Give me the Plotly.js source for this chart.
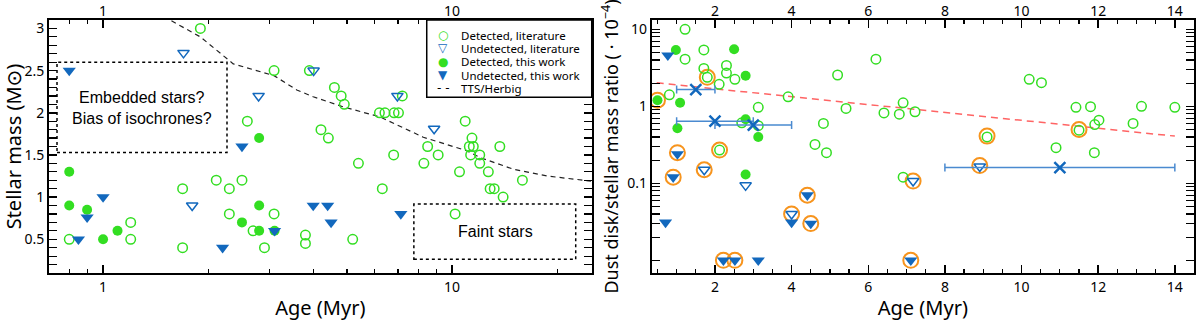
<!DOCTYPE html>
<html>
<head>
<meta charset="utf-8">
<script src="https://cdn.plot.ly/plotly-3.0.1.min.js"></script>
<style>
  html, body { margin: 0; padding: 0; background: #fff; }
  #chart { width: 1200px; height: 321px; }
</style>
</head>
<body>
<div id="chart"></div>
<script>
// ---- Left panel: stellar mass vs age (Myr, log) ----
const litDetAge  = [1.90, 3.09, 2.59, 3.90, 4.60, 4.81, 4.91, 4.21, 4.42, 6.19, 6.42, 6.82, 7.02, 7.20,
                    10.9, 11.4, 11.2, 11.5, 13.7, 8.51, 9.12, 6.80, 11.3, 12.0, 12.0, 12.7, 8.30, 5.39,
                    10.5, 6.31, 12.85, 13.2, 14.0, 15.9, 10.2, 5.19, 3.80, 3.80, 2.11, 2.50, 2.30, 1.69,
                    2.30, 3.09, 2.69, 2.90, 1.69, 1.20, 1.20, 0.80];
const litDetMass = [3.0, 2.5, 1.9, 2.5, 2.3, 2.2, 2.1, 1.8, 1.7, 2.0, 2.0, 2.0, 2.0, 2.2,
                    1.9, 1.7, 1.6, 1.6, 1.6, 1.6, 1.5, 1.5, 1.5, 1.5, 1.4, 1.3, 1.4, 1.4,
                    1.3, 1.1, 1.1, 1.1, 1.0, 1.2, 0.8, 0.5, 0.55, 0.45, 1.2, 1.2, 1.1, 1.1,
                    0.8, 0.8, 0.6, 0.4, 0.4, 0.7, 0.5, 0.5];
const litUndAge  = [1.70, 2.79, 4.01, 6.97, 8.88, 1.80];
const litUndMass = [2.71, 2.2, 2.5, 2.2, 1.81, 0.9];
const newDetAge  = [2.80, 0.80, 0.80, 0.90, 1.00, 1.10, 2.50, 2.80, 2.80, 3.10];
const newDetMass = [1.7, 1.3, 0.9, 0.85, 0.5, 0.6, 0.7, 0.9, 0.6, 0.6];
const newUndAge  = [0.80, 2.50, 1.00, 0.90, 0.85, 2.20, 3.10, 4.00, 4.40, 4.50, 7.13];
const newUndMass = [2.5, 1.6, 1.0, 0.76, 0.5, 0.4, 0.6, 0.9, 0.9, 0.7, 0.8];
// TTS / Herbig boundary
const ttsAge  = [1.57, 1.90, 2.36, 3.09, 3.59, 4.00, 4.88, 6.22, 8.27, 11.0, 12.0, 15.0, 18.7, 25.0];
const ttsMass = [3.09, 2.90, 2.58, 2.44, 2.27, 2.19, 2.07, 1.95, 1.71, 1.55, 1.47, 1.33, 1.25, 1.19];

// ---- Right panel: dust disk / stellar mass ratio (x1e-4) vs age ----
const rLitDetAge   = [1.22, 1.22, 1.71, 1.71, 2.30, 2.30, 2.52, 1.80, 2.11, 0.81, 3.91, 3.13, 5.20,
                      5.42, 6.20, 6.41, 6.81, 6.91, 7.22, 4.83, 4.61, 4.91, 2.70, 3.13, 2.12, 6.91,
                      10.2, 10.52, 11.42, 11.8, 12.02, 11.91, 13.13, 12.91, 14.0, 11.5, 9.1, 10.9, 11.9];
const rLitDetRatio = [10, 4.1, 5.4, 3.1, 3.4, 2.7, 2.24, 2.38, 1.93, 1.41, 1.33, 0.97, 2.55,
                      0.94, 4.1, 0.82, 0.79, 1.11, 0.85, 0.60, 0.32, 0.25, 0.61, 0.56, 0.27, 0.12,
                      2.24, 2.03, 0.97, 0.99, 0.66, 0.58, 1.0, 0.6, 0.97, 0.49, 0.40, 0.29, 0.25];
const rLitUndAge   = [1.72, 2.80, 4.00, 7.17, 8.91];
const rLitUndRatio = [0.15, 0.094, 0.04, 0.107, 0.165];
const rNewDetAge   = [0.98, 2.50, 2.80, 0.50, 1.09, 1.02, 2.80, 3.13, 2.80];
const rNewDetRatio = [5.4, 5.5, 2.5, 1.2, 1.11, 0.52, 0.68, 0.40, 0.13];
const rNewUndAge   = [0.77, 1.02, 0.91, 0.71, 4.00, 4.41, 4.50, 2.22, 2.52, 3.13, 7.11];
const rNewUndRatio = [4.6, 0.24, 0.12, 0.031, 0.031, 0.07, 0.030, 0.01, 0.01, 0.01, 0.01];
// orange rings around selected sources
const ringAge   = [0.50, 1.80, 1.02, 2.12, 0.91, 1.72, 4.00, 4.41, 4.50, 2.22, 2.52, 7.11, 7.17, 8.91, 9.10, 11.5];
const ringRatio = [1.2, 2.38, 0.25, 0.27, 0.12, 0.15, 0.04, 0.07, 0.03, 0.01, 0.01, 0.01, 0.107, 0.17, 0.41, 0.50];
// binned means with age spread
const meanAge    = [1.5, 2.0, 3.0, 11.0];
const meanRatio  = [1.65, 0.64, 0.57, 0.16];
const meanAgeErr = [0.5, 1.0, 1.0, 3.0];
// fitted trend
const fitAge   = [0.48, 14.0];
const fitRatio = [2.02, 0.41];

const legendLabels = ['Detected, literature', 'Undetected, literature', 'Detected, this work',
                      'Undetected, this work', 'TTS/Herbig'];
const legendGlyphs = ['○', '▽', '●', '▼', '- -'];

const GREEN = '#33de22';
const BLUE = '#1268bd';
const ORANGE = '#f7941d';
const FONT = 'Noto Sans, DejaVu Sans, sans-serif';

function openCircles(x, y, xa, ya) {
    return { x: x, y: y, xaxis: xa, yaxis: ya, type: 'scatter', mode: 'markers',
        marker: { symbol: 'circle-open', size: 9.5, color: GREEN, line: { width: 1.5, color: GREEN } } };
}
function openTriangles(x, y, xa, ya) {
    return { x: x, y: y, xaxis: xa, yaxis: ya, type: 'scatter', mode: 'markers',
        marker: { symbol: 'triangle-down-open', size: 10, color: BLUE, line: { width: 1.5, color: BLUE } } };
}
function filledCircles(x, y, xa, ya) {
    return { x: x, y: y, xaxis: xa, yaxis: ya, type: 'scatter', mode: 'markers',
        marker: { symbol: 'circle', size: 10, color: GREEN } };
}
function filledTriangles(x, y, xa, ya) {
    return { x: x, y: y, xaxis: xa, yaxis: ya, type: 'scatter', mode: 'markers',
        marker: { symbol: 'triangle-down', size: 11.5, color: BLUE } };
}

const traces = [
    { x: ttsAge, y: ttsMass, xaxis: 'x', yaxis: 'y', type: 'scatter', mode: 'lines',
      line: { color: '#222', width: 1.2, dash: '5px,4px' } },
    openCircles(litDetAge, litDetMass, 'x', 'y'),
    openTriangles(litUndAge, litUndMass, 'x', 'y'),
    filledCircles(newDetAge, newDetMass, 'x', 'y'),
    filledTriangles(newUndAge, newUndMass, 'x', 'y'),

    { x: fitAge, y: fitRatio, xaxis: 'x2', yaxis: 'y2', type: 'scatter', mode: 'lines',
      line: { color: '#ff6464', width: 1.5, dash: '7px,5px' } },
    { x: ringAge, y: ringRatio, xaxis: 'x2', yaxis: 'y2', type: 'scatter', mode: 'markers',
      marker: { symbol: 'circle-open', size: 15, color: ORANGE, line: { width: 2, color: ORANGE } } },
    openCircles(rLitDetAge, rLitDetRatio, 'x2', 'y2'),
    openTriangles(rLitUndAge, rLitUndRatio, 'x2', 'y2'),
    filledCircles(rNewDetAge, rNewDetRatio, 'x2', 'y2'),
    filledTriangles(rNewUndAge, rNewUndRatio, 'x2', 'y2'),
    { x: meanAge, y: meanRatio, xaxis: 'x2', yaxis: 'y2', type: 'scatter', mode: 'markers',
      marker: { symbol: 'x-thin-open', size: 11, color: BLUE, line: { width: 2.5, color: BLUE } },
      error_x: { type: 'data', array: meanAgeErr, visible: true, color: '#4a8ad0', thickness: 1.5, width: 4 } },

    // empty traces so the top label axes get drawn
    { x: [], y: [], xaxis: 'x3', yaxis: 'y', type: 'scatter', mode: 'markers' },
    { x: [], y: [], xaxis: 'x4', yaxis: 'y2', type: 'scatter', mode: 'markers' }
];
traces.forEach(t => { t.showlegend = false; t.hoverinfo = 'skip'; });

const logMinor = [0.01];
[0.01, 0.1, 1].forEach(d => { for (let k = 2; k <= 9; k++) logMinor.push(+(d * k).toPrecision(2)); });

const frame = {
    showline: true, linecolor: '#000', linewidth: 2, mirror: 'allticks',
    ticks: 'inside', ticklen: 8, tickwidth: 1.5, tickcolor: '#000',
    showgrid: false, zeroline: false,
    tickfont: { family: FONT, size: 14, color: '#000' }
};
const minorTicks = { ticks: 'inside', ticklen: 4, tickwidth: 1.2, tickcolor: '#000', showgrid: false };
const titleFont = { family: FONT, size: 20, color: '#000' };
const topLabels = { side: 'top', ticks: '', showline: false, showgrid: false, zeroline: false,
    tickfont: { family: FONT, size: 14, color: '#000' } };

const layout = {
    width: 1200, height: 321,
    margin: { l: 49, r: 6, t: 20, b: 48 },
    paper_bgcolor: '#fff', plot_bgcolor: '#fff',
    showlegend: false,
    xaxis: Object.assign({}, frame, {
        domain: [0, 0.474], type: 'log', range: [Math.log10(0.7), 1.4],
        tickvals: [1, 10], ticktext: ['1', '10'],
        minor: Object.assign({ tickvals: [0.7, 0.8, 0.9, 2, 3, 4, 5, 6, 7, 8, 9, 20] }, minorTicks),
        title: { text: 'Age (Myr)', font: titleFont, standoff: 6 }
    }),
    yaxis: Object.assign({}, frame, {
        domain: [0, 1], range: [0.1, 3.1], dtick: 0.5, tick0: 0,
        minor: Object.assign({ dtick: 0.1, tick0: 0 }, minorTicks),
        title: { text: 'Stellar mass (M⊙)', font: titleFont, standoff: 3 }
    }),
    xaxis3: Object.assign({}, topLabels, {
        overlaying: 'x', anchor: 'y', type: 'log', range: [Math.log10(0.7), 1.4],
        tickvals: [1, 10], ticktext: ['1', '10']
    }),
    xaxis2: Object.assign({}, frame, {
        domain: [0.5264, 1], range: [0.35, 14.5], dtick: 2, tick0: 0,
        minor: Object.assign({ dtick: 0.5, tick0: 0 }, minorTicks),
        title: { text: 'Age (Myr)', font: titleFont, standoff: 6 }
    }),
    yaxis2: Object.assign({}, frame, {
        anchor: 'x2', type: 'log', range: [-2.165, 1.121],
        tickvals: [0.1, 1, 10], ticktext: ['0.1', '1', '10'],
        minor: Object.assign({ tickvals: logMinor }, minorTicks),
        title: { text: 'Dust disk/stellar mass ratio ( · 10<sup>−4</sup>)', font: { family: FONT, size: 18, color: '#000' }, standoff: 4 }
    }),
    xaxis4: Object.assign({}, topLabels, {
        overlaying: 'x2', anchor: 'y2', range: [0.35, 14.5], dtick: 2, tick0: 0
    }),
    shapes: [
        // dotted boxes (data coords on the left panel)
        { type: 'rect', xref: 'x', yref: 'y', x0: 0.738, x1: 2.265, y0: 1.53, y1: 2.6,
          line: { color: '#000', width: 1.5, dash: 'dot' } },
        { type: 'rect', xref: 'x', yref: 'y', x0: 7.77, x1: 22.6, y0: 0.262, y1: 0.917,
          line: { color: '#000', width: 1.5, dash: 'dot' } },
        // legend frame
        { type: 'rect', xref: 'paper', yref: 'paper', x0: 0.3299, x1: 0.474, y0: 0.6945, y1: 1,
          fillcolor: '#fff', line: { color: '#000', width: 1.5 }, layer: 'above' }
    ],
    annotations: [
        { xref: 'x', yref: 'y', x: Math.log10(1.293), y: 2.06, showarrow: false,
          text: 'Embedded stars?<br>Bias of isochrones?', font: { family: 'Liberation Sans, Arial', size: 16, color: '#000' } },
        { xref: 'x', yref: 'y', x: Math.log10(13.3), y: 0.59, showarrow: false,
          text: 'Faint stars', font: { family: 'Liberation Sans, Arial', size: 16, color: '#000' } }
    ]
};

// hand-made compact legend
const legendRows = [0.9407, 0.8881, 0.8352, 0.7826, 0.7300];
const glyphColors = [GREEN, BLUE, GREEN, BLUE, '#000'];
legendLabels.forEach((lab, i) => {
    layout.annotations.push({ xref: 'paper', yref: 'paper', x: 0.3438, y: legendRows[i], xanchor: 'center', yanchor: 'middle',
        showarrow: false, text: legendGlyphs[i], font: { family: 'DejaVu Sans', size: 12, color: glyphColors[i] } });
    layout.annotations.push({ xref: 'paper', yref: 'paper', x: 0.3581, y: legendRows[i], xanchor: 'left', yanchor: 'middle',
        showarrow: false, text: lab, font: { family: FONT, size: 11.5, color: '#000' } });
});

Plotly.newPlot('chart', traces, layout, { displayModeBar: false, staticPlot: true });
</script>
</body>
</html>
